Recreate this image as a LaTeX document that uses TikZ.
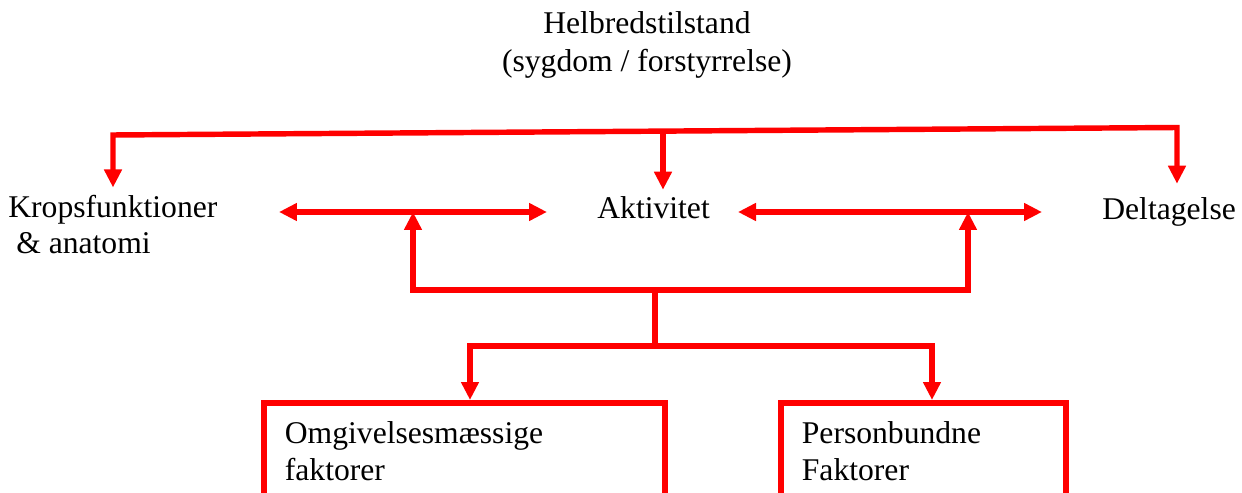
\documentclass[tikz,border=0pt]{standalone}
\usepackage{fontspec}
\setmainfont{Liberation Serif}
\usetikzlibrary{arrows.meta,positioning}

\begin{document}
\begin{tikzpicture}
[x=0.02cm, y=-0.02cm,
  link/.style={draw=red, line width=3.1pt},
  txt/.style={font=\fontsize{18}{21}\selectfont, inner sep=0.14cm},
  factor/.style={draw=red, line width=3.3pt, font=\fontsize{18}{21}\selectfont, align=left, anchor=north west, inner xsep=0.42cm, inner ysep=0.38cm},
  >={Triangle[length=0.36cm, width=0.34cm]}
]
  \useasboundingbox (0,0) rectangle (1242,493);
  \clip (0,0) rectangle (1242,493);

  \node[txt, anchor=base, align=center] (health) at (647,72) {Helbredstilstand\\[1pt](sygdom / forstyrrelse)};
  \node[txt, anchor=base west, align=left] (body) at (1,254) {Kropsfunktioner\\\hspace{0.25em}\& anatomi};
  \node[txt, anchor=base west] (activity) at (590,219) {Aktivitet};
  \node[txt, anchor=base west] (part) at (1095,220) {Deltagelse};

  \node[factor, text width=7.18cm] (env) at (261,400) {Omgivelsesmæssige\\faktorer};
  \node[factor, text width=4.86cm] (pers) at (778,400) {Personbundne\\Faktorer};

  \coordinate (tl) at (113,135);
  \coordinate (tr) at (1177,127.5);
  \coordinate (tm) at (663,131);
  \coordinate (kl) at (279,212);
  \coordinate (kr) at (547,212);
  \coordinate (dl) at (738,212);
  \coordinate (dr) at (1042,212);
  \coordinate (ul) at (413,290);
  \coordinate (ur) at (968,290);
  \coordinate (um) at (655,290);
  \coordinate (lm) at (655,346);
  \coordinate (ll) at (470,346);
  \coordinate (lr) at (932,346);

  \draw[link,<->,shorten >=0.14cm] (tl |- body.north) -- (tl) -- (tr) -- (tr |- part.north);
  \draw[link,->] (tm) -- (tm |- activity.north);

  \draw[link,<->] (kl) -- (kr);
  \draw[link,<->] (dl) -- (dr);

  \draw[link,<->] (ul |- kl) -- (ul) -- (ur) -- (ur |- dl);
  \draw[link] (um) -- (lm);
  \draw[link,<->] (ll |- env.north) -- (ll) -- (lr) -- (lr |- pers.north);
\end{tikzpicture}
\end{document}
